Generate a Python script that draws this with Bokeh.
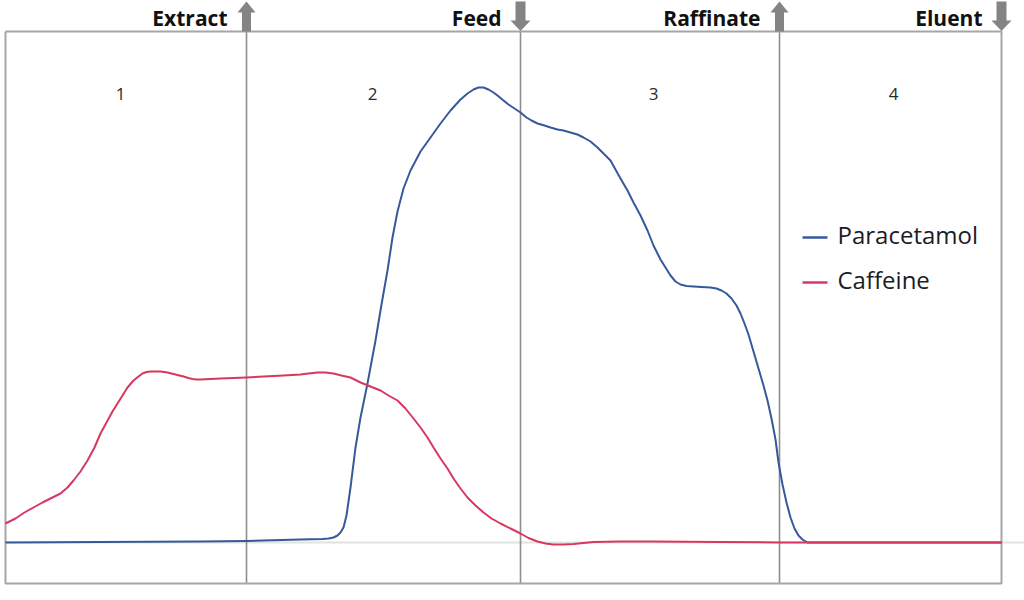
from bokeh.plotting import figure
from bokeh.models import Range1d
from bokeh.core.properties import value
from bokeh.embed import file_html
from bokeh.resources import INLINE

# ---- data (position along the column, concentration in arbitrary units) ----
para_x = [5, 100, 200, 246, 300, 322, 328, 333, 337, 340, 343, 346, 350, 355, 360,
          367, 375, 381, 387, 392, 397, 403, 410, 420, 430, 440, 450, 460, 467, 473,
          478, 483, 488, 493, 497, 503, 508, 514, 520, 526, 531, 537, 544, 550, 557,
          563, 570, 577, 583, 590, 597, 603, 610, 615, 620, 627, 633, 640, 647, 653,
          660, 665, 670, 675, 680, 686, 693, 701, 710, 716, 721, 726, 731, 736, 740,
          744, 748, 753, 758, 763, 767, 771, 775, 778, 782, 786, 790, 794, 798, 802,
          807, 1001]
para_y = [0, 0.5, 1, 1.5, 3, 3.5, 4, 5, 7, 10, 15, 27, 55, 95, 125,
          159, 202, 238, 272, 305, 331, 354, 372, 391, 405, 419, 432, 443, 449, 453,
          455, 455, 453, 450, 447, 442, 438, 434, 430, 425, 422, 419, 417, 415, 413,
          412, 410, 408, 405, 401, 395, 389, 382, 373, 364, 352, 340, 327, 312, 297,
          283, 275, 267, 261, 258, 256.5, 256, 255.5, 255, 254, 252, 249, 244, 237, 229,
          219, 208, 191, 174, 157, 142, 124, 103, 80, 58, 40, 25, 14, 7, 3,
          0, 0]

caff_x = [5, 15, 24, 33, 42, 50, 60, 67, 73, 80, 87, 94, 100, 106, 112, 117, 122, 127,
          133, 138, 142, 146, 150, 155, 160, 167, 175, 183, 188, 192, 196, 200, 220,
          246, 283, 300, 308, 317, 325, 333, 341, 350, 360, 370, 380, 388, 397, 405,
          413, 420, 427, 433, 440, 447, 453, 460, 467, 475, 483, 491, 500, 510, 520,
          528, 537, 545, 553, 563, 573, 583, 593, 620, 650, 720, 779, 1001]
caff_y = [19, 24, 30, 35, 40, 44, 49, 55, 62, 71, 82, 95, 109, 120, 131, 139, 147, 155,
          162, 166, 169, 170.5, 171, 171, 171, 170, 168, 166, 164.5, 163.5, 163, 163, 164,
          165, 167, 168, 169, 170, 170, 169, 167, 165, 160, 156, 152, 147, 142, 134,
          124, 115, 105, 95, 84, 74, 64, 54, 45, 37, 30, 24, 19, 14, 9,
          4.5, 1, -1, -2, -2, -1.5, -0.5, 0.5, 1, 1, 0.5, 0, 0]

zone_labels = ["1", "2", "3", "4"]
zone_label_x = [120, 372, 653, 893]
port_labels = ["Extract", "Feed", "Raffinate", "Eluent"]
port_x = [246, 520, 779, 1001]
port_dir = ["up", "down", "up", "down"]
series_names = ["Paracetamol", "Caffeine"]

# ---- style ----
BLUE = "#36599b"
RED = "#d8375f"
BOX = "#a6a6a6"
DIV = "#8e8e8e"
ARROW = "#848484"

X0, X1 = 5, 1001          # column box left/right
Y_TOP, Y_BOT = 511, -41   # box top/bottom in data units

p = figure(width=1024, height=600, x_range=Range1d(0, 1024), y_range=Range1d(-58, 542),
           output_backend="svg", toolbar_location=None, min_border=0,
           x_axis_type=None, y_axis_type=None)
p.grid.visible = False
p.outline_line_color = None
p.background_fill_color = "white"
p.border_fill_color = "white"

# baseline
p.segment(x0=[X0], y0=[0], x1=[1024], y1=[0], line_color="#e2e2e2", line_width=2)

# zone dividers
p.segment(x0=port_x[:3], y0=[Y_BOT] * 3, x1=port_x[:3], y1=[Y_TOP] * 3,
          line_color=DIV, line_width=1.6)

# box
p.line(x=[X0, X1, X1, X0, X0], y=[Y_TOP, Y_TOP, Y_BOT, Y_BOT, Y_TOP],
       line_color=BOX, line_width=2)

# curves
p.line(para_x, para_y, line_color=BLUE, line_width=2, line_join="round")
p.line(caff_x, caff_y, line_color=RED, line_width=2, line_join="round")

# port arrows
xs, ys = [], []
for x, d in zip(port_x, port_dir):
    if d == "up":
        px = [x, x + 9, x + 4.5, x + 4.5, x - 4.5, x - 4.5, x - 9]
        py = [1, 12, 12, 31, 31, 12, 12]
    else:
        px = [x - 5, x + 5, x + 5, x + 10, x, x - 10, x - 5]
        py = [1, 1, 20, 20, 30.5, 20, 20]
    xs.append(px)
    ys.append([542 - v for v in py])
p.patches(xs, ys, fill_color=ARROW, line_color=None)

# port labels
p.text(x=[x - 19 for x in port_x], y=[542 - 17] * 4, text=port_labels,
       text_font=value("Open Sans"), text_font_style="bold", text_font_size="21px",
       text_color="#111111", text_align="right", text_baseline="alphabetic")

# zone numbers
p.text(x=zone_label_x, y=[542 - 93] * 4, text=zone_labels,
       text_font=value("Open Sans"), text_font_size="17px", text_color="#2a2a2a",
       text_align="center", text_baseline="middle")

# legend (manual)
leg_y = [542 - 237, 542 - 282]
p.segment(x0=[802, 802], y0=leg_y, x1=[827, 827], y1=leg_y,
          line_color=[BLUE, RED], line_width=2.5)
p.text(x=[837, 837], y=[v + 3 for v in leg_y], text=series_names,
       text_font=value("Open Sans"), text_font_size="24px", text_color="#1c1c24",
       text_align="left", text_baseline="middle")

open("out.html", "w").write(file_html(p, INLINE))
